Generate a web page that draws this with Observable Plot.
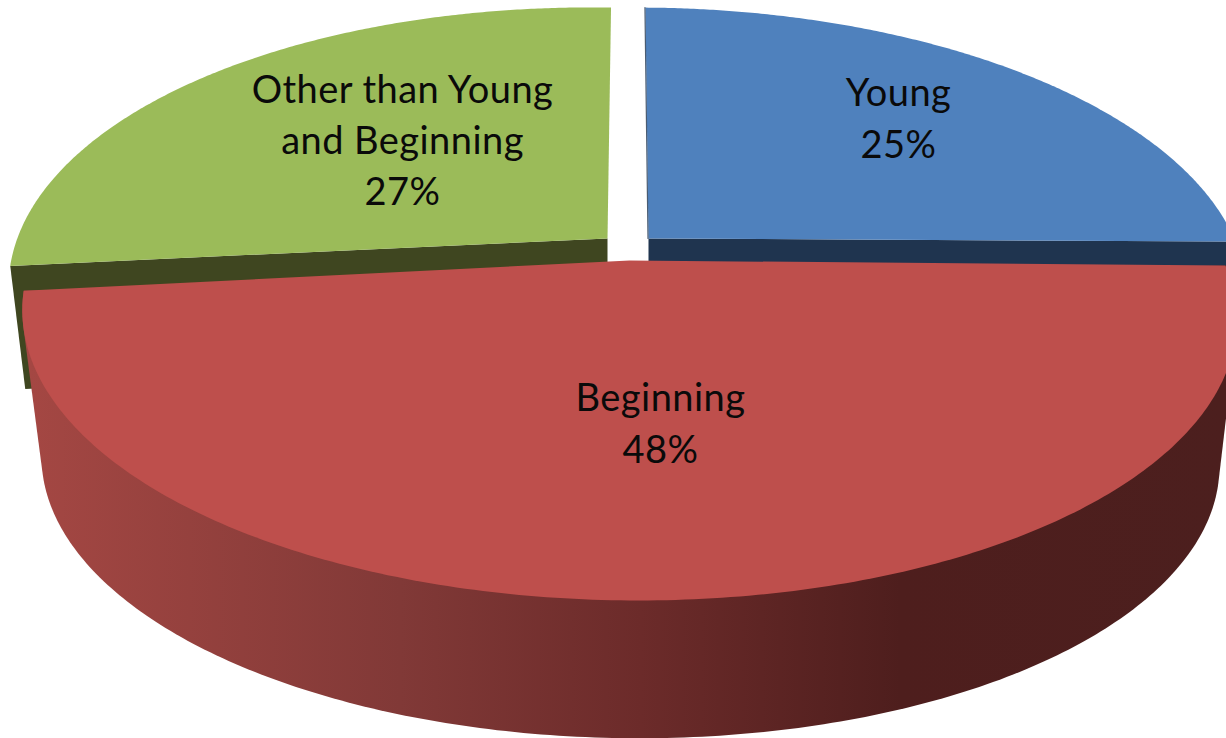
<!DOCTYPE html>
<html>
<head>
<meta charset="utf-8">
<style>html,body{margin:0;padding:0;background:#fff;overflow:hidden}svg{display:block}svg text{letter-spacing:.45px}</style>
<script src="https://cdn.jsdelivr.net/npm/d3@7"></script>
<script src="https://cdn.jsdelivr.net/npm/@observablehq/plot@0.6"></script>
</head>
<body>
<script>
// Data
const categories = ["Young", "Beginning", "Other than Young\nand Beginning"];
const shares = [25, 48, 27];
const faceColors = ["#4F81BD", "#BE4F4C", "#9BBB59"];
const cutColors = ["#1F344F", "#5A2220", "#3F4620"];
const labelX = [898, 660, 402];
const labelY = [115, 420, 137];
const shadeStops = [[30, "#A44743"], [400, "#813937"], [640, "#6C2B2A"], [900, "#4E1E1D"], [1226, "#4C1F1E"]];

// Projection of the pie's disc (a perspective view of a circle)
const W = 1226, H = 738;
const cx = 629, apexY = 260, A = 596, B = 275, k = 0.191;
const explodeX = [19, 0, -22], explodeY = [-22, 0, -22];
const radiusScale = [0.985, 1, 0.985];
const tilt = [3, 5, 8];
const baseScale = 0.97, baseCx = 630, baseCy = 408;
const greenDrop = [15, 123], blueDrop = 40;

function project(i, deg) {
  const t = deg * Math.PI / 180, u = Math.sin(t), v = Math.cos(t), w = 1 + k * v;
  return [cx + A * radiusScale[i] * u / w + explodeX[i] / w,
          apexY + explodeY[i] - B * v / w + tilt[i] * u];
}
const apex = i => [cx + explodeX[i], apexY + explodeY[i]];
const toBase = ([x, y]) => [baseCx + baseScale * (x - cx), baseCy + baseScale * (y - apexY)];

const total = d3.sum(shares);
const starts = [0, ...d3.cumsum(shares)].map(s => s / total * 360);
const arc = i => d3.range(0, 241).map(n => project(i, starts[i] + (starts[i + 1] - starts[i]) * n / 240));

const poly = (pts, id) => pts.map(([x, y]) => ({x, y, id}));

// Top faces
const faces = categories.map((c, i) => poly([apex(i), ...arc(i)], c));
// Cut faces behind the front slice
const greenEnd = project(2, starts[2]);
const greenCut = poly([greenEnd, apex(2),
  [apex(2)[0], apex(2)[1] + greenDrop[1]],
  [greenEnd[0] + greenDrop[0], greenEnd[1] + greenDrop[1]]], "cut-green");
const blueEnd = project(0, starts[1]);
const blueCut = poly([apex(0), blueEnd,
  [blueEnd[0], blueEnd[1] + blueDrop],
  [apex(0)[0], apex(0)[1] + blueDrop]], "cut-blue");
// Rim of the front slice: the outline that joins its top edge to its base edge
const rimTop = arc(1);
const rim = poly(d3.polygonHull([...rimTop, ...rimTop.map(toBase)]), "rim");
// Thin shadowed edge along the gap
const blueEdge = [apex(0), project(0, 0)].map(([x, y]) => ({x: x - 0.5, y}));

const labelData = categories.map((c, i) => ({text: `${c}\n${shares[i]}%`, x: labelX[i], y: labelY[i]}));

const shadeDefs = () => {
  const defs = d3.create("svg:defs");
  const g = defs.append("linearGradient").attr("id", "sideShade")
    .attr("gradientUnits", "userSpaceOnUse")
    .attr("x1", 0).attr("x2", W).attr("y1", 0).attr("y2", 0);
  shadeStops.forEach(([x, c]) => g.append("stop").attr("offset", x / W).attr("stop-color", c));
  return defs.node();
};

const shape = (data, fill) => Plot.line(data, {x: "x", y: "y", z: "id", fill, stroke: "none", curve: "linear"});

const chart = Plot.plot({
  width: W, height: H,
  margin: 0,
  x: {domain: [0, W], range: [0, W], axis: null},
  y: {domain: [0, H], range: [0, H], axis: null},
  style: {background: "#fff"},
  marks: [
    shadeDefs,
    shape(greenCut, cutColors[2]),
    shape(blueCut, cutColors[0]),
    shape(faces[2], faceColors[2]),
    shape(faces[0], faceColors[0]),
    Plot.line(blueEdge, {x: "x", y: "y", stroke: cutColors[0], strokeWidth: 1.2, strokeOpacity: 0.8}),
    shape(rim, "url(#sideShade)"),
    shape(faces[1], faceColors[1]),
    Plot.text(labelData, {
      x: "x", y: "y", text: "text",
      fontFamily: "Lato", fontSize: 38, lineHeight: 1.355,
      fill: "#0a0a0a", textAnchor: "middle", lineAnchor: "middle"
    })
  ]
});
document.body.appendChild(chart);
</script>
</body>
</html>
